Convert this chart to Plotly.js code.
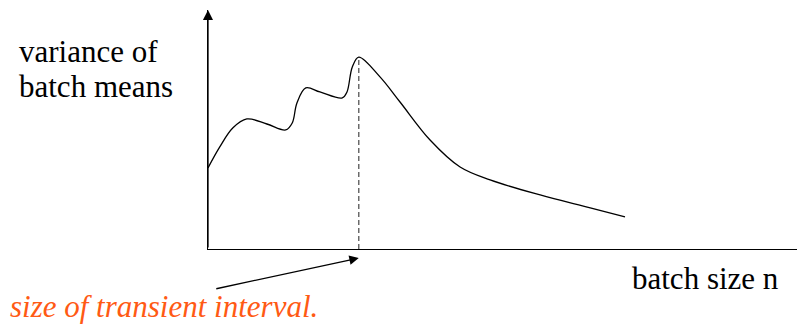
<!DOCTYPE html>
<html>
<head>
<meta charset="utf-8">
<script src="https://cdn.plot.ly/plotly-3.0.1.min.js"></script>
<style>
  html, body { margin: 0; padding: 0; background: #fff; }
  #plotArea { width: 799px; height: 324px; }
</style>
</head>
<body>
<div id="plotArea"></div>
<script>
// sketch of variance of batch means vs batch size (arbitrary units, 0-100)
var batchSize = [0, 2.0, 4.2, 6.6, 10.0, 13.2, 14.3, 15.1, 16.6, 19.0, 22.8, 23.6, 24.5, 25.6,
                 29.2, 32.6, 37.7, 42.8, 47.9, 56.4, 64.9, 70.8];
var variance  = [33.9, 42.7, 50.6, 54.4, 52.3, 49.8, 52.7, 61.1, 67.4, 65.7, 63.2, 65.7, 76.2, 80.3,
                 72.0, 61.5, 45.6, 34.3, 28.9, 22.6, 17.2, 13.4];

var yLabelLines = ["variance of", "batch means"];
var xLabel = "batch size n";
var noteText = "size of transient interval.";

// transient interval ends where the curve peaks
var peakIdx = variance.indexOf(Math.max.apply(null, variance));
var peakX = batchSize[peakIdx];
var peakY = variance[peakIdx];

var serif = "Liberation Serif";

var curve = {
    x: batchSize,
    y: variance,
    mode: 'lines',
    type: 'scatter',
    line: {color: '#000', width: 1.3, shape: 'spline', smoothing: 1},
    hoverinfo: 'skip'
};

var marker = {
    x: [peakX, peakX],
    y: [0, peakY],
    mode: 'lines',
    type: 'scatter',
    line: {color: '#555', width: 1.3, dash: '5px,3px'},
    hoverinfo: 'skip'
};

var layout = {
    width: 799,
    height: 324,
    margin: {l: 208, r: 2, t: 10, b: 75},
    paper_bgcolor: '#fff',
    plot_bgcolor: '#fff',
    showlegend: false,
    font: {family: serif},
    xaxis: {range: [0, 100], showline: true, linecolor: '#000', linewidth: 1.3,
            showgrid: false, zeroline: false, showticklabels: false, ticks: '', fixedrange: true},
    yaxis: {range: [0, 100], showline: true, linecolor: '#000', linewidth: 1.3,
            showgrid: false, zeroline: false, showticklabels: false, ticks: '', fixedrange: true},
    annotations: [
        // y axis arrow
        {x: 0, y: 1, xref: 'x', yref: 'paper', text: '', showarrow: true,
         ax: 0, ay: 239, arrowhead: 2, arrowsize: 1.55, arrowwidth: 1.3, arrowcolor: '#000'},
        // x axis arrow, head runs off the page
        {x: 1, y: 0, xref: 'paper', yref: 'y', text: '', showarrow: true,
         ax: 11, ay: 0, arrowside: 'start', startarrowhead: 2, startarrowsize: 1.55,
         arrowwidth: 1.3, arrowcolor: '#000'},
        // pointer to the transient interval
        {x: peakX, y: -0.038, xref: 'x', yref: 'paper', text: '', showarrow: true,
         ax: -144, ay: 31, arrowhead: 2, arrowsize: 1.45, arrowwidth: 1.3, arrowcolor: '#000'},
        {x: -0.325, y: 0.828, xref: 'paper', yref: 'paper', xanchor: 'left', yanchor: 'middle',
         text: yLabelLines[0], showarrow: false, font: {family: serif, size: 31, color: '#000'}},
        {x: -0.325, y: 0.678, xref: 'paper', yref: 'paper', xanchor: 'left', yanchor: 'middle',
         text: yLabelLines[1], showarrow: false, font: {family: serif, size: 31, color: '#000'}},
        {x: 0.7165, y: -0.1255, xref: 'paper', yref: 'paper', xanchor: 'left', yanchor: 'middle',
         text: xLabel, showarrow: false, font: {family: serif, size: 31, color: '#000'}},
        {x: -0.3395, y: -0.2385, xref: 'paper', yref: 'paper', xanchor: 'left', yanchor: 'middle',
         text: noteText, showarrow: false,
         font: {family: serif, size: 31, color: '#FF5A14', style: 'italic'}}
    ]
};

Plotly.newPlot('plotArea', [curve, marker], layout, {staticPlot: true, displayModeBar: false});
</script>
</body>
</html>
